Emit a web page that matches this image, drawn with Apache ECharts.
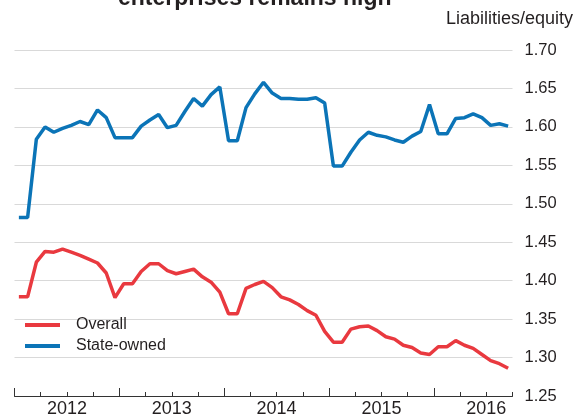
<!DOCTYPE html>
<html>
<head>
<meta charset="utf-8">
<script src="https://cdn.jsdelivr.net/npm/echarts@6/dist/echarts.min.js"></script>
<style>
html,body{margin:0;padding:0;background:#fff;}
#chart{width:575px;height:418px;}
</style>
</head>
<body>
<div id="chart"></div>
<script>
const titleText = 'enterprises remains high';
const axisName = 'Liabilities/equity';
const years = ['2012', '2013', '2014', '2015', '2016'];
const months = [
  '2012-01','2012-02','2012-03','2012-04','2012-05','2012-06','2012-07','2012-08','2012-09','2012-10','2012-11','2012-12',
  '2013-01','2013-02','2013-03','2013-04','2013-05','2013-06','2013-07','2013-08','2013-09','2013-10','2013-11','2013-12',
  '2014-01','2014-02','2014-03','2014-04','2014-05','2014-06','2014-07','2014-08','2014-09','2014-10','2014-11','2014-12',
  '2015-01','2015-02','2015-03','2015-04','2015-05','2015-06','2015-07','2015-08','2015-09','2015-10','2015-11','2015-12',
  '2016-01','2016-02','2016-03','2016-04','2016-05','2016-06','2016-07','2016-08','2016-09'
];
const overall = [
  1.379, 1.379, 1.424, 1.438, 1.437, 1.441, 1.437, 1.433, 1.428, 1.423, 1.410, 1.378,
  1.396, 1.396, 1.412, 1.422, 1.422, 1.413, 1.409, 1.412, 1.415, 1.405, 1.398, 1.385,
  1.357, 1.357, 1.390, 1.395, 1.399, 1.391, 1.379, 1.375, 1.369, 1.361, 1.355, 1.334,
  1.320, 1.320, 1.337, 1.340, 1.341, 1.335, 1.327, 1.324, 1.316, 1.313, 1.306, 1.304,
  1.314, 1.314, 1.322, 1.316, 1.312, 1.304, 1.296, 1.292, 1.286
];
const stateOwned = [
  1.482, 1.482, 1.584, 1.600, 1.593, 1.598, 1.602, 1.607, 1.603, 1.622, 1.612, 1.586,
  1.586, 1.586, 1.601, 1.609, 1.616, 1.599, 1.602, 1.620, 1.637, 1.627, 1.642, 1.652,
  1.582, 1.582, 1.625, 1.643, 1.658, 1.644, 1.637, 1.637, 1.636, 1.636, 1.638, 1.631,
  1.549, 1.549, 1.567, 1.583, 1.593, 1.589, 1.587, 1.583, 1.580, 1.588, 1.594, 1.629,
  1.591, 1.591, 1.611, 1.612, 1.617, 1.612, 1.602, 1.604, 1.601
];
const yTicks = ['1.25','1.30','1.35','1.40','1.45','1.50','1.55','1.60','1.65','1.70'];

const FONT = '"Liberation Sans", Arial, Helvetica, sans-serif';
const TXT = '#231f20';
const RED = '#e9393f';
const BLUE = '#0b74b7';

const y0 = Number(years[0]);
function monthPos(s) {
  const [y, m] = s.split('-').map(Number);
  return (y - y0) * 12 + (m - 1) + 0.5;
}
const xMax = months.length;
const yearCenters = years.map((y, i) => i * 12 + 6);
const quarterTicks = [];
for (let v = 0; v <= xMax; v += 3) quarterTicks.push(v);
const yearTicks = years.map((y, i) => i * 12);

const chart = echarts.init(document.getElementById('chart'), null, {renderer: 'canvas'});
chart.setOption({
  animation: false,
  backgroundColor: '#ffffff',
  textStyle: {fontFamily: FONT},
  title: [
    {text: titleText, left: 118, top: -13, padding: 0,
     textStyle: {fontFamily: FONT, fontSize: 23, fontWeight: 'bold', color: TXT}},
    {text: axisName, right: 2, top: 10, padding: 0,
     textStyle: {fontFamily: FONT, fontSize: 18, fontWeight: 'normal', color: TXT}}
  ],
  legend: {
    data: ['Overall', 'State-owned'],
    orient: 'vertical',
    left: 25, top: 317, padding: 0,
    icon: 'rect', itemWidth: 35, itemHeight: 4, itemGap: 5,
    textStyle: {fontFamily: FONT, fontSize: 16, color: TXT, padding: [0, 0, 0, 11]}
  },
  grid: {left: 14.5, right: 62.5, top: 50, bottom: 20, containLabel: false},
  xAxis: [
    {
      type: 'value', min: 0, max: xMax, position: 'bottom',
      splitLine: {show: false},
      axisLine: {show: true, lineStyle: {color: '#333', width: 1}},
      axisTick: {show: true, inside: true, length: 4, customValues: quarterTicks, lineStyle: {color: '#333', width: 1}},
      axisLabel: {show: true, customValues: yearCenters, margin: 4,
        formatter: v => years[Math.round((v - 6) / 12)],
        fontFamily: FONT, fontSize: 18, color: TXT}
    },
    {
      type: 'value', min: 0, max: xMax, position: 'bottom',
      splitLine: {show: false},
      axisLine: {show: false},
      axisTick: {show: true, inside: true, length: 8, customValues: yearTicks, lineStyle: {color: '#333', width: 1}},
      axisLabel: {show: false}
    }
  ],
  yAxis: {
    type: 'value', position: 'right', min: 1.25, max: 1.70, interval: 0.05,
    axisLine: {show: false}, axisTick: {show: false},
    splitLine: {show: true, lineStyle: {color: '#d9d9d9', width: 1.2}},
    axisLabel: {margin: 12, fontFamily: FONT, fontSize: 16.5, color: TXT,
      formatter: v => yTicks[Math.round((v - 1.25) / 0.05)]}
  },
  series: [
    {name: 'Overall', type: 'line', xAxisIndex: 0, showSymbol: false, symbol: 'none',
     data: months.map((m, i) => [monthPos(m), overall[i]]),
     lineStyle: {color: RED, width: 3.5}, itemStyle: {color: RED}, z: 3},
    {name: 'State-owned', type: 'line', xAxisIndex: 0, showSymbol: false, symbol: 'none',
     data: months.map((m, i) => [monthPos(m), stateOwned[i]]),
     lineStyle: {color: BLUE, width: 3.5}, itemStyle: {color: BLUE}, z: 3}
  ]
});
</script>
</body>
</html>
